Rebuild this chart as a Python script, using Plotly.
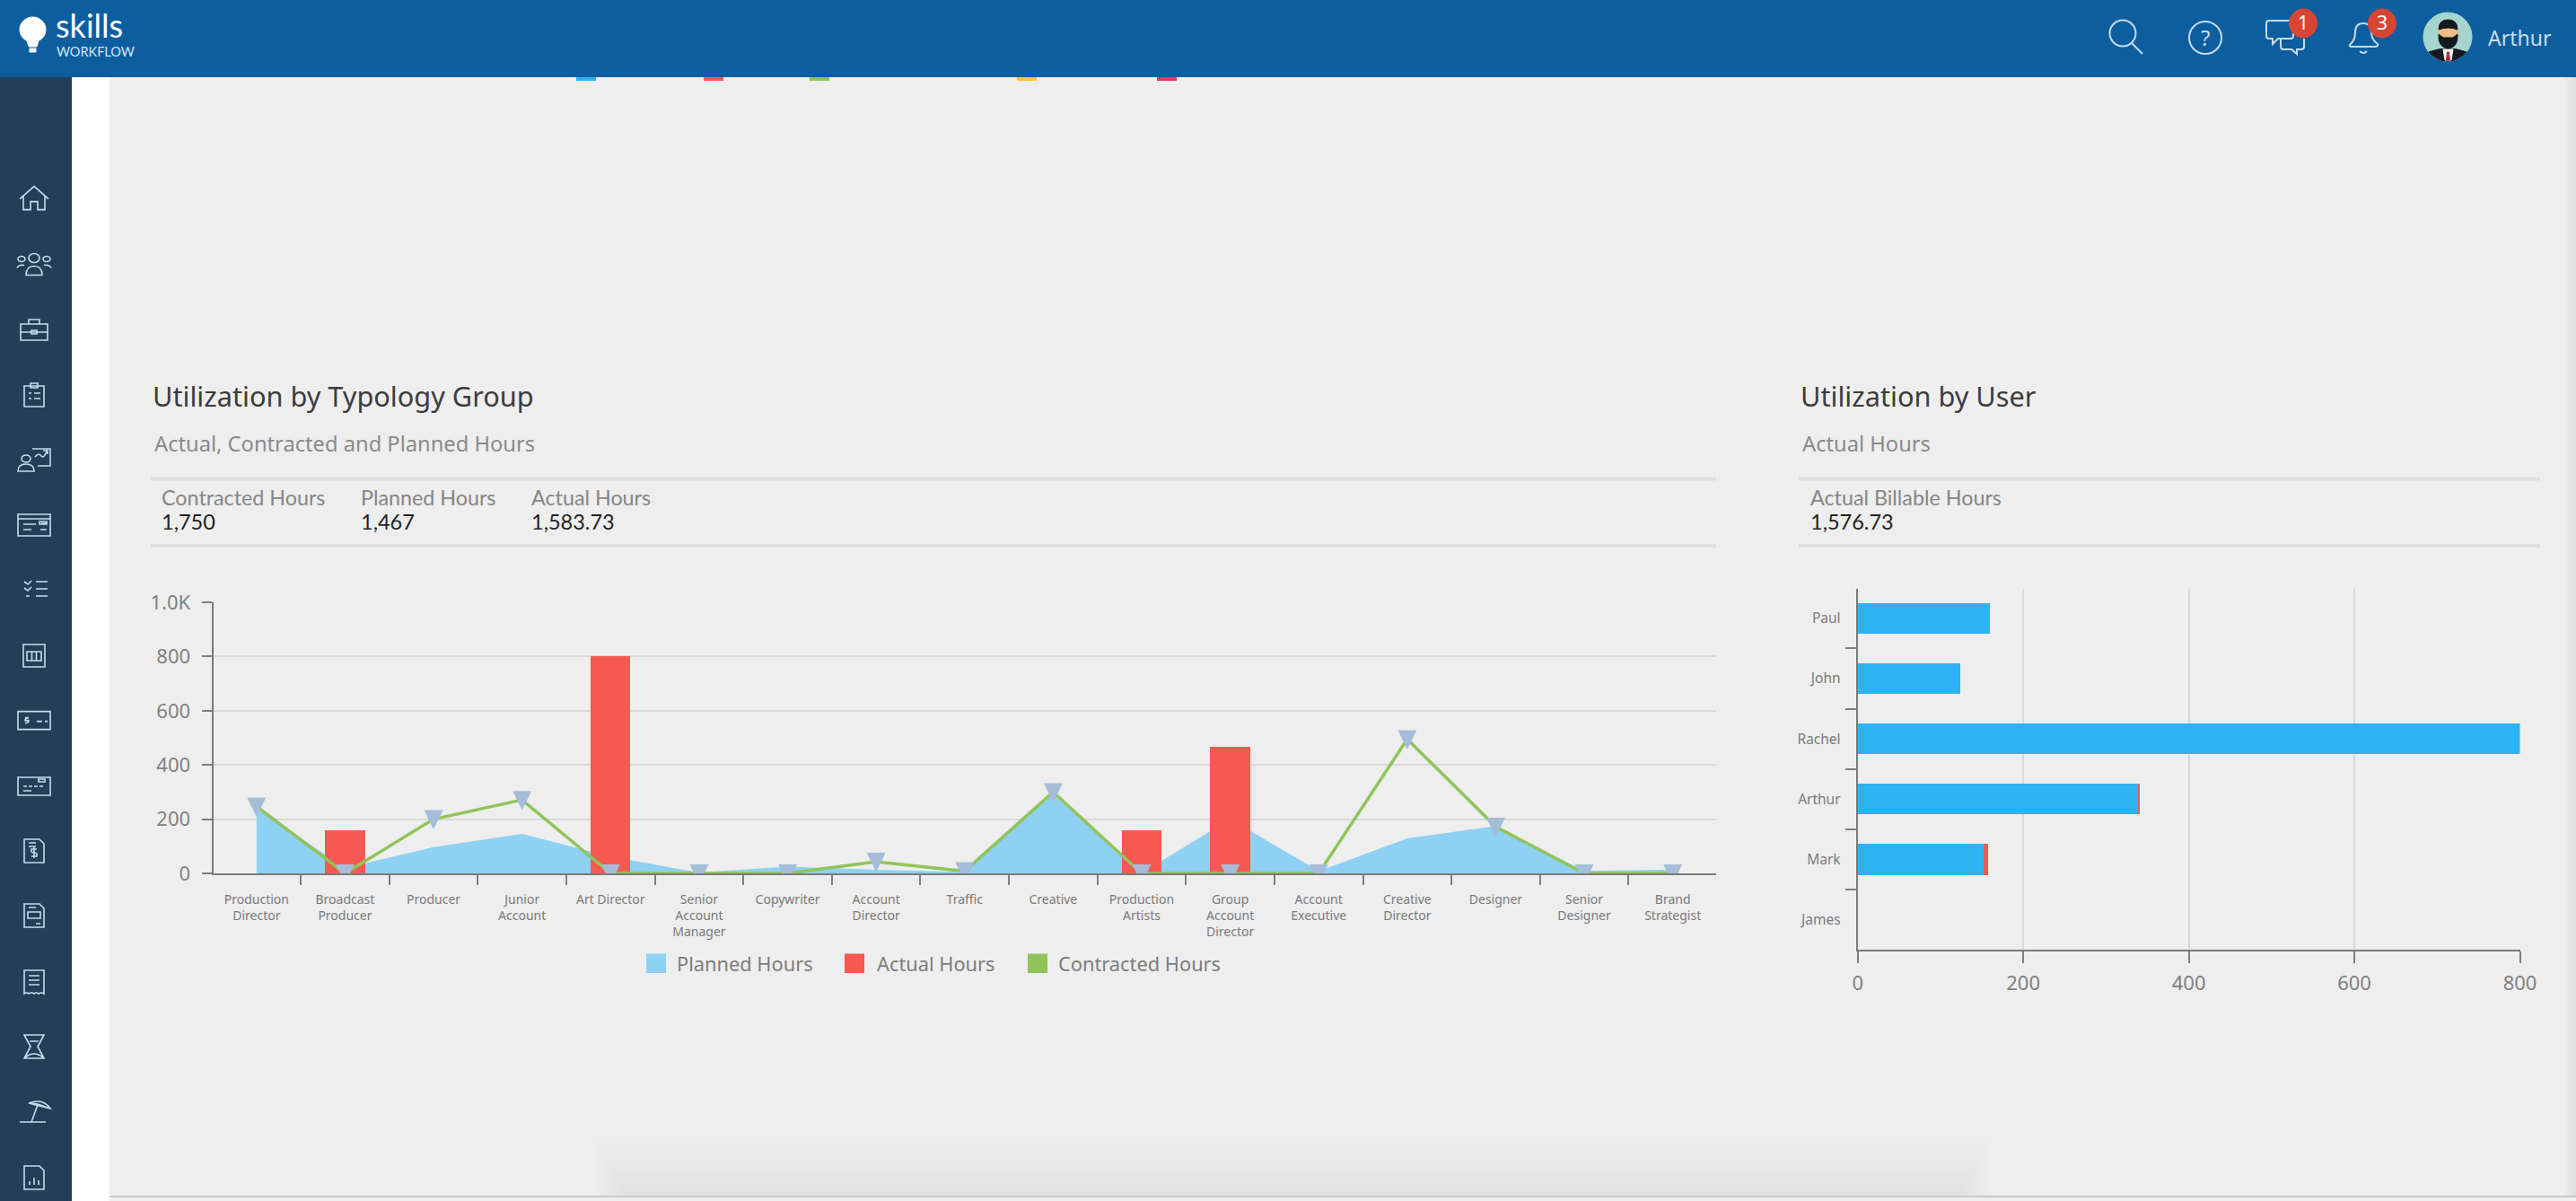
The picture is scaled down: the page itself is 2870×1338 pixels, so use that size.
import re
import plotly.graph_objects as go

W, H = 2870, 1338

categories = ["Production<br>Director", "Broadcast<br>Producer", "Producer", "Junior<br>Account", "Art Director",
              "Senior<br>Account<br>Manager", "Copywriter", "Account<br>Director", "Traffic", "Creative",
              "Production<br>Artists", "Group<br>Account<br>Director", "Account<br>Executive", "Creative<br>Director",
              "Designer", "Senior<br>Designer", "Brand<br>Strategist"]
planned_hours = [240, 20, 97, 146, 62, 3, 25, 13, 5, 292, 2, 200, 8, 129, 175, 9, 14]
actual_hours = [0, 158, 0, 0, 800, 0, 0, 0, 0, 0, 160, 466, 0, 0, 0, 0, 0]
contracted_hours = [247, 0, 200, 271, 0, 0, 0, 43, 8, 300, 0, 0, 0, 495, 172, 0, 0]

users = ["Paul", "John", "Rachel", "Arthur", "Mark", "James"]
billable_hours = [160, 124, 801, 339, 152, 0]
other_hours = [0, 0, 0, 2, 6, 0]

y_tickvals = [0, 200, 400, 600, 800, 1000]
y_ticktext = ["0", "200", "400", "600", "800", "1.0K"]

FONT = "Noto Sans"
KPI_FONT = "Lato"
C_PLANNED, C_ACTUAL, C_CONTR, C_MARK, C_USER = "#8FD1F2", "#F55951", "#90C45A", "#A5BDD8", "#2DB3F3"
GRID, AXIS, TICKC = "#D9D9D9", "#7A7A7A", "#7E7E7E"
ICON = "#C4DCEF"


def fx(x): return x / W
def fy(y): return 1 - y / H


def pth(d, ox=0, oy=0):
    out, idx = [], 0
    for tok in re.findall(r"[MLCQZ]|-?\d+\.?\d*", d):
        if tok.isalpha():
            out.append(tok)
            idx = 0
        else:
            v = float(tok)
            out.append(f"{fx(v + ox):.6f}" if idx % 2 == 0 else f"{fy(v + oy):.6f}")
            idx += 1
    res, i = "", 0
    while i < len(out):
        t = out[i]
        if t.isalpha():
            res += t
            i += 1
        else:
            res += out[i] + "," + out[i + 1] + " "
            i += 2
    return res


def circ(cx, cy, rx, ry=None):
    ry = rx if ry is None else ry
    k = 0.5523
    return (f"M{cx-rx} {cy} C{cx-rx} {cy-k*ry} {cx-k*rx} {cy-ry} {cx} {cy-ry} "
            f"C{cx+k*rx} {cy-ry} {cx+rx} {cy-k*ry} {cx+rx} {cy} "
            f"C{cx+rx} {cy+k*ry} {cx+k*rx} {cy+ry} {cx} {cy+ry} "
            f"C{cx-k*rx} {cy+ry} {cx-rx} {cy+k*ry} {cx-rx} {cy} Z ")


def box(x0, y0, x1, y1):
    return f"M{x0} {y0} L{x1} {y0} L{x1} {y1} L{x0} {y1} Z "


shapes, notes = [], []


def rect(x0, y0, x1, y1, color, opacity=1, layer="below"):
    shapes.append(dict(type="rect", xref="paper", yref="paper", x0=fx(x0), x1=fx(x1), y0=fy(y0), y1=fy(y1),
                       fillcolor=color, opacity=opacity, line=dict(width=0), layer=layer))


def stroke(d, ox=0, oy=0, color=ICON, width=2, fill=None, layer="above"):
    s = dict(type="path", xref="paper", yref="paper", path=pth(d, ox, oy), layer=layer,
             line=dict(color=color, width=width))
    if fill:
        s["fillcolor"] = fill
    shapes.append(s)


def txt(x, y, s, size, color, anchor="left", family=FONT):
    notes.append(dict(x=fx(x), y=fy(y), xref="paper", yref="paper", text=s, showarrow=False, xanchor=anchor,
                      yanchor="middle", borderpad=0, font=dict(family=family, size=size, color=color)))


# page
rect(122, 86, W, 1333, "#EEEEEE")
rect(122, 1334, W, H, "#F0F0F0")
for i in range(14):
    rect(700 - i * 3, 1333 - i * 5, 2180 + i * 3, 1333, "#B0B0B0", 0.012)
rect(122, 1332, W, 1334, "#C9C9C9")
for i in range(6):
    rect(W - 2 - i * 2, 86, W, 1333, "#B0B0B0", 0.04)
rect(0, 86, 80, H, "#233F57")
rect(0, 0, W, 86, "#0D5E9F", layer="above")
for x0, c in zip([642, 784, 902, 1133, 1289], ["#2DB3F3", "#F55951", "#90C45A", "#F8C63D", "#E8336F"]):
    rect(x0, 86, x0 + 22, 90, c)

# section rules
for y in (533.5, 608):
    rect(168, y - 2, 1912, y + 2, "#DFDFDF")
    rect(2004, y - 2, 2830, y + 2, "#DFDFDF")

# headings
txt(169, 441, "Utilization by Typology Group", 30.7, "#3C3C3C")
txt(171, 494, "Actual, Contracted and Planned Hours", 23.7, "#8A8A8A")
txt(179, 554, "Contracted Hours", 23.3, "#858585", family=KPI_FONT)
txt(179, 580.5, "1,750", 23.5, "#222222", family=KPI_FONT)
txt(401, 554, "Planned Hours", 23.3, "#858585", family=KPI_FONT)
txt(401, 580.5, "1,467", 23.5, "#222222", family=KPI_FONT)
txt(591, 554, "Actual Hours", 23.3, "#858585", family=KPI_FONT)
txt(591, 580.5, "1,583.73", 23.5, "#222222", family=KPI_FONT)
txt(2005, 441, "Utilization by User", 30.7, "#3C3C3C")
txt(2007, 494, "Actual Hours", 23.7, "#8A8A8A")
txt(2016, 554, "Actual Billable Hours", 23.3, "#858585", family=KPI_FONT)
txt(2016, 580.5, "1,576.73", 23.5, "#222222", family=KPI_FONT)

# legend of the left chart
for x0, c, label, tx in [(720, C_PLANNED, "Planned Hours", 753), (941, C_ACTUAL, "Actual Hours", 976),
                         (1145, C_CONTR, "Contracted Hours", 1178)]:
    rect(x0, 1062.5, x0 + 22, 1084, c)
    txt(tx, 1073.5, label, 21.8, "#7C7C7C")

# header
stroke(circ(36.5, 33, 14.5, 14) + "", fill="#FFFFFF", color="#FFFFFF", width=1)
stroke("M29 42 L44 42 L41 52 L32 52 Z", fill="#FFFFFF", color="#FFFFFF", width=1)
stroke(box(33, 54, 40, 58), fill="#FFFFFF", color="#FFFFFF", width=1)
txt(61, 28, "skills", 36, "#FFFFFF", family=KPI_FONT)
txt(62, 57, "WORKFLOW", 14.5, "#D6E6F3", family=KPI_FONT)
stroke(circ(2365, 37, 14.5), color=ICON)
stroke("M2375 48 L2387 60", color=ICON)
stroke(circ(2457, 42, 18), color=ICON)
txt(2457, 42, "?", 24, ICON, "center")
stroke("M2528 23 L2552 23 Q2555 23 2555 26 L2555 40 Q2555 43 2552 43 L2538 43 L2532 49 L2532 43 L2528 43 "
       "Q2525 43 2525 40 L2525 26 Q2525 23 2528 23 Z", color=ICON)
stroke("M2541 43 L2541 52 Q2541 55 2544 55 L2553 55 L2559 60 L2559 55 L2564 55 Q2567 55 2567 52 L2567 43", color=ICON)
stroke("M2619 49 Q2624 44 2624 36 Q2624 26 2633 26 Q2642 26 2642 36 Q2642 44 2649 49 Q2650 52 2646 52 "
       "L2620 52 Q2616 52 2619 49 Z", color=ICON)
stroke("M2629 57 Q2633 61 2637 57", color=ICON)
for cx, s in [(2566, "1"), (2654, "3")]:
    stroke(circ(cx, 26, 15.5, 16), color="#D84535", width=1, fill="#D84535")
    txt(cx, 25, s, 21, "#FFFFFF", "center")

# avatar
stroke(circ(2727, 41, 27), color="#A6D5CE", width=1, fill="#A6D5CE")
stroke("M2706 58 Q2716 54 2727 54 Q2738 54 2748 58 Q2739 68 2727 68 Q2715 68 2706 58 Z", color="#15181C", width=1, fill="#15181C")
stroke("M2722 55 L2733 55 L2731 67 L2724 67 Z", color="#F2F2F2", width=1, fill="#F2F2F2")
stroke("M2726.5 58 L2728.5 58 L2729.5 67 L2725.5 67 Z", color="#A5323C", width=1, fill="#A5323C")
stroke(circ(2727.5, 37, 10.5, 11), color="#EDBE86", width=1, fill="#EDBE86")
stroke("M2717 33 Q2717 22 2727.5 22 Q2738 22 2738 33 Q2727.5 29 2717 33 Z", color="#15181C", width=1, fill="#15181C")
stroke("M2717 38 L2722 42 L2733 42 L2738 38 Q2739 53 2727.5 54 Q2716 53 2717 38 Z", color="#15181C", width=1, fill="#15181C")
txt(2771, 42, "Arthur", 23, "#C9DFF0")

# sidebar icons, one per row
icon_rows = [
    "M-16 1 L0 -13 L16 1 M-12 -2 L-12 13 L-4 13 L-4 4 L4 4 L4 13 L12 13 L12 -2",
    circ(0, -7, 6, 5) + circ(-14, -6, 4, 3) + circ(14, -6, 4, 3) +
    "M-9 12 Q-9 2 0 2 Q9 2 9 12 Z M-19 4 Q-17 0 -11 1 M19 4 Q17 0 11 1",
    box(-15, -7, 15, 11) + "M-6 -7 L-6 -12 L6 -12 L6 -7 M-15 2 L15 2 " + box(-3, 0, 3, 4),
    box(-11, -10, 11, 13) + box(-4, -13, 4, -8) + "M-6 -2 L-3 -2 M0 -2 L7 -2 M-6 4 L-3 4 M0 4 L7 4",
    circ(-9, -1, 5, 4) + "M-18 13 Q-18 5 -9 5 Q0 5 0 13 Z M-2 -12 L18 -12 L18 7 L4 7 M1 -3 Q5 -8 8 -4 Q11 -1 14 -9 M10 -10 L15 -10 L15 -6",
    box(-18, -12, 18, 12) + "M-18 -7 L18 -7 M-12 -1 L2 -1 M-12 5 L-3 5 M8 -2 L14 -2 M7 5 L14 5 " + box(6, -4, 14, -1),
    "M-11 -8 L-7 -5 L-3 -9 M-11 -1 L-7 2 L-3 -2 M-9 8 L-5 8 M2 -8 L15 -8 M2 0 L15 0 M2 8 L15 8",
    box(-12, -12, 12, 13) + box(-8, -4, 8, 6) + "M-2.5 -4 L-2.5 6 M2.5 -4 L2.5 6",
    box(-18, -10, 18, 10) + "M-10 -3 L-6 -3 Q-10 -3 -10 0 L-6 0 Q-6 3 -10 3 M3 1 L9 1 M12 1 L15 1",
    box(-18, -10, 18, 10) + box(5, -8, 12, -5) + "M-12 0 L-8 0 M-6 0 L-2 0 M0 0 L4 0 M6 0 L10 0 M-12 5 L-3 5",
    "M-11 -13 L6 -13 L11 -8 L11 13 L-11 13 Z M-6 -9 L2 -9 M-6 -5 L2 -5 M3 -2 L-3 -2 Q-4 2 0 2 Q4 2 3 6 L-3 6 M0 -4 L0 8",
    "M-11 -13 L6 -13 L11 -8 L11 13 L-11 13 Z M-6 -9 L2 -9 " + box(-7, -4, 7, 3) + "M2 9 L7 9",
    "M-11 -13 L11 -13 L11 13 Q8 11 5 13 Q2 11 0 13 Q-3 11 -6 13 Q-8 11 -11 13 Z M-6 -7 L6 -7 M-6 -2 L6 -2 M-6 3 L6 3",
    "M-11 -13 L11 -13 L4 0 L11 13 L-11 13 L-4 0 Z M-5 -6 L5 -6 M-11 13 Q0 3 11 13",
    "M-6 -9 Q10 -15 18 -3 L-6 -9 Q2 -9 7 -7 L18 -3 M4 -7 L-3 12 M-16 12 L13 12",
    "M-11 -13 L6 -13 L11 -8 L11 13 L-11 13 Z M-5 8 L-5 4 M0 8 L0 0 M5 8 L5 3",
]
icon_ys = [220.6, 294.5, 368, 440, 512, 585, 656, 730, 802.6, 876, 948, 1020, 1094, 1166, 1238, 1312]
for d, iy in zip(icon_rows, icon_ys):
    stroke(d, 38, iy, width=1.6)

fig = go.Figure()
fig.add_trace(go.Scatter(x=categories, y=planned_hours, name="Planned Hours", mode="none", fill="tozeroy",
                         fillcolor=C_PLANNED, xaxis="x", yaxis="y", showlegend=False))
fig.add_trace(go.Bar(x=categories, y=actual_hours, name="Actual Hours", marker=dict(color=C_ACTUAL, line=dict(width=0)),
                     width=0.45, xaxis="x", yaxis="y3", showlegend=False))
fig.add_trace(go.Scatter(x=categories, y=contracted_hours, name="Contracted Hours", mode="lines+markers",
                         line=dict(color=C_CONTR, width=3.5),
                         marker=dict(symbol="triangle-down", size=10, color=C_MARK),
                         xaxis="x", yaxis="y3", showlegend=False))
fig.add_trace(go.Bar(y=users, x=billable_hours, name="Actual Billable Hours", orientation="h",
                     marker=dict(color=C_USER, line=dict(width=0)), xaxis="x2", yaxis="y2", showlegend=False,
                     cliponaxis=False))
fig.add_trace(go.Bar(y=users, x=other_hours, name="Actual Non-Billable Hours", orientation="h",
                     marker=dict(color=C_ACTUAL, line=dict(width=0)), xaxis="x2", yaxis="y2", showlegend=False,
                     cliponaxis=False))

for i, v in enumerate(contracted_hours):
    shapes.append(dict(type="path", xref="x", yref="y3", xsizemode="pixel", ysizemode="pixel", xanchor=i, yanchor=v,
                       path="M-10.5,10 L10.5,10 L0,-11.5 Z", fillcolor=C_MARK, line=dict(width=0), layer="above"))

axis_font = dict(family=FONT, size=22, color="#808080")
fig.update_layout(
    width=W, height=H, margin=dict(l=0, r=0, t=0, b=0, autoexpand=False), paper_bgcolor="#FFFFFF",
    plot_bgcolor="rgba(0,0,0,0)",
    barmode="stack", bargap=0.49, shapes=shapes, annotations=notes, showlegend=False,
    xaxis=dict(domain=[fx(237.5), fx(1912)], anchor="y", type="category", categoryorder="array", automargin=False,
               categoryarray=categories, range=[-0.49, 16.49], tickson="boundaries", ticks="outside", ticklen=11,
               tickwidth=2, tickcolor=TICKC, showline=True, linecolor=AXIS, linewidth=2, showgrid=False,
               tickangle=0, tickfont=dict(family=FONT, size=14, color="#7A7A7A"), fixedrange=True,
               ticklabelstandoff=15),
    yaxis=dict(domain=[fy(973), fy(671)], anchor="x", range=[0, 1000], tickvals=y_tickvals, ticktext=y_ticktext,
               ticks="outside", ticklen=11, tickwidth=2, tickcolor=TICKC, showline=True, linecolor=AXIS, linewidth=2,
               gridcolor=GRID, gridwidth=2, zeroline=False, tickfont=axis_font, fixedrange=True, automargin=False,
               ticklabelstandoff=8),
    yaxis3=dict(overlaying="y", anchor="x", range=[0, 1000], visible=False, fixedrange=True, automargin=False),
    xaxis2=dict(domain=[fx(2069.7), fx(2807.5)], anchor="y2", range=[0, 800], tickvals=[0, 200, 400, 600, 800],
                ticks="outside", ticklen=13, tickwidth=2, tickcolor=TICKC, showline=True, linecolor=AXIS, linewidth=2,
                gridcolor=GRID, gridwidth=2, zeroline=False, tickfont=axis_font, fixedrange=True, automargin=False,
                ticklabelstandoff=4),
    yaxis2=dict(domain=[fy(1057.5), fy(656)], anchor="x2", type="category", categoryorder="array",
                categoryarray=users, range=[5.49, -0.49], tickson="boundaries", ticks="outside", ticklen=12,
                tickwidth=2, tickcolor=TICKC, showline=True, linecolor=AXIS, linewidth=2, showgrid=False,
                tickfont=dict(family=FONT, size=15.5, color="#7A7A7A"), fixedrange=True, automargin=False,
                ticklabelstandoff=14),
)

fig.write_html("out.html", config=dict(displayModeBar=False),
               post_script="document.body.style.margin='0';document.body.style.overflow='hidden';")
